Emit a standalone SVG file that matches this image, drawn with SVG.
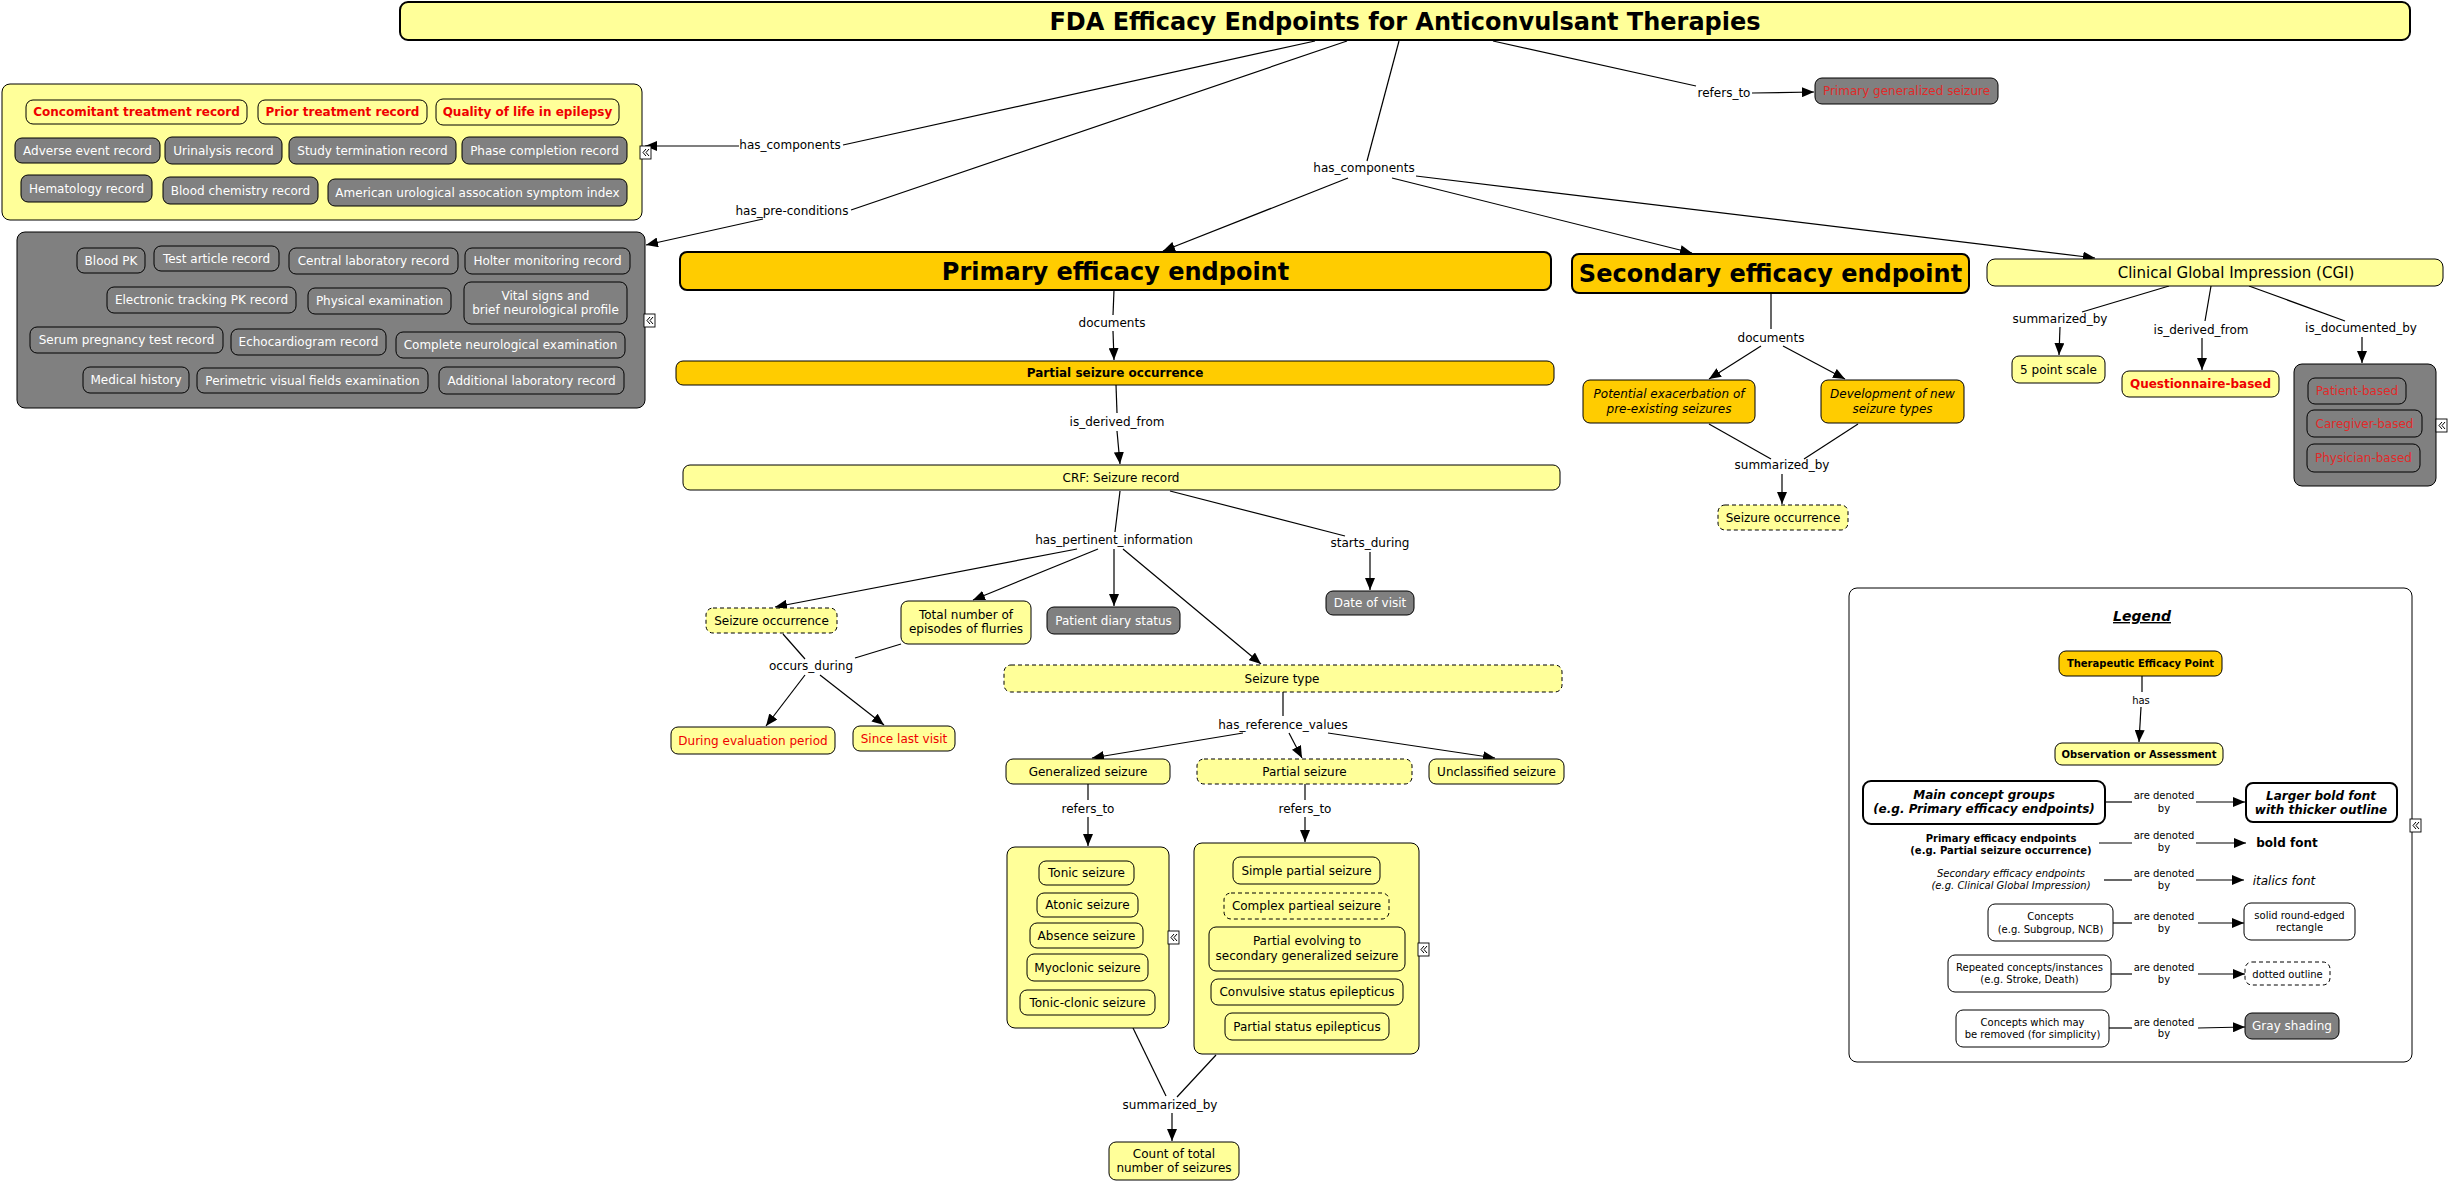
<svg xmlns="http://www.w3.org/2000/svg" width="2449" height="1183" viewBox="0 0 2449 1183">
<defs>
<style>
rect{stroke:#000;stroke-width:1}
.y{fill:#FFFF99}.o{fill:#FFCC00}.g{fill:#808080}.wh{fill:#fff}
.d{stroke-dasharray:4 3}
.thick{stroke-width:2}
text{font-family:"DejaVu Sans",Verdana,"Liberation Sans",sans-serif;font-size:12px;text-anchor:middle;fill:#000}
.w{fill:#fff}.r{fill:#ee0000}.rg{fill:#e02a2a}
.b{font-weight:bold}.i{font-style:italic}
.s10{font-size:10px}.s14{font-size:14px}.s15{font-size:15px}.s24{font-size:24px}
.c line{stroke:#000;stroke-width:1.2;fill:none}
.c line.a{marker-end:url(#ah)}
</style>
<marker id="ah" markerWidth="12" markerHeight="10" refX="12" refY="5" orient="auto" markerUnits="userSpaceOnUse"><path d="M0,0 L12,5 L0,10 z" fill="#000"/></marker>
<g id="mkr"><rect x="0" y="0" width="11" height="13" fill="#fff" style="fill:#fff;stroke:#000;stroke-width:0.9"/><polyline points="6,3 3,6.5 6,10" fill="none" stroke="#000" stroke-width="1"/><polyline points="9,3 6,6.5 9,10" fill="none" stroke="#000" stroke-width="1"/></g>
</defs>
<rect x="0" y="0" width="2449" height="1183" style="fill:#fff;stroke:none"/>

<g id="legend">
<rect class="wh" x="1849" y="588" width="563" height="474" rx="8"/>
<text class="b i s14" x="2142" y="621" text-decoration="underline">Legend</text>
</g>

<g id="connectors" class="c">
<line x1="1315" y1="41" x2="843" y2="145"/>
<line class="a" x1="739" y1="146" x2="645" y2="146"/>
<text x="790" y="149">has_components</text>
<line x1="1347" y1="41" x2="851" y2="210"/>
<line class="a" x1="763" y1="219" x2="646" y2="245"/>
<text x="792" y="215">has_pre-conditions</text>
<line x1="1399" y1="41" x2="1367" y2="161"/>
<text x="1364" y="172">has_components</text>
<line class="a" x1="1348" y1="178" x2="1163" y2="251"/>
<line class="a" x1="1392" y1="178" x2="1692" y2="253"/>
<line class="a" x1="1416" y1="176" x2="2095" y2="258"/>
<line x1="1493" y1="41" x2="1696" y2="86"/>
<text x="1724" y="97">refers_to</text>
<line class="a" x1="1752" y1="93" x2="1814" y2="92"/>
<line x1="1114" y1="290" x2="1113" y2="315"/>
<text x="1112" y="327">documents</text>
<line class="a" x1="1113" y1="331" x2="1114" y2="360"/>
<line x1="1116" y1="385" x2="1117" y2="413"/>
<text x="1117" y="426">is_derived_from</text>
<line class="a" x1="1117" y1="431" x2="1120" y2="464"/>
<line x1="1120" y1="491" x2="1115" y2="532"/>
<text x="1114" y="544">has_pertinent_information</text>
<line class="a" x1="1077" y1="549" x2="775" y2="607"/>
<line class="a" x1="1098" y1="549" x2="973" y2="600"/>
<line class="a" x1="1114" y1="549" x2="1114" y2="606"/>
<line class="a" x1="1123" y1="549" x2="1261" y2="664"/>
<line x1="1170" y1="491" x2="1345" y2="536"/>
<text x="1370" y="547">starts_during</text>
<line class="a" x1="1370" y1="552" x2="1370" y2="590"/>
<line x1="783" y1="634" x2="805" y2="659"/>
<line x1="901" y1="644" x2="855" y2="658"/>
<text x="811" y="670">occurs_during</text>
<line class="a" x1="805" y1="675" x2="766" y2="726"/>
<line class="a" x1="820" y1="675" x2="884" y2="725"/>
<line x1="1283" y1="692" x2="1283" y2="716"/>
<text x="1283" y="729">has_reference_values</text>
<line class="a" x1="1243" y1="733" x2="1092" y2="758"/>
<line class="a" x1="1289" y1="733" x2="1302" y2="758"/>
<line class="a" x1="1328" y1="733" x2="1495" y2="758"/>
<line x1="1088" y1="784" x2="1088" y2="800"/>
<text x="1088" y="813">refers_to</text>
<line class="a" x1="1088" y1="817" x2="1088" y2="846"/>
<line x1="1305" y1="784" x2="1305" y2="800"/>
<text x="1305" y="813">refers_to</text>
<line class="a" x1="1305" y1="817" x2="1305" y2="842"/>
<line x1="1133" y1="1028" x2="1166" y2="1096"/>
<line x1="1216" y1="1055" x2="1177" y2="1097"/>
<text x="1170" y="1109">summarized_by</text>
<line class="a" x1="1172" y1="1113" x2="1172" y2="1141"/>
<line x1="1771" y1="293" x2="1771" y2="329"/>
<text x="1771" y="342">documents</text>
<line class="a" x1="1761" y1="346" x2="1709" y2="379"/>
<line class="a" x1="1783" y1="346" x2="1845" y2="379"/>
<line x1="1709" y1="424" x2="1771" y2="459"/>
<line x1="1858" y1="424" x2="1804" y2="459"/>
<text x="1782" y="469">summarized_by</text>
<line class="a" x1="1782" y1="474" x2="1782" y2="504"/>
<line x1="2169" y1="286" x2="2082" y2="312"/>
<text x="2060" y="323">summarized_by</text>
<line class="a" x1="2060" y1="327" x2="2059" y2="355"/>
<line x1="2211" y1="286" x2="2205" y2="321"/>
<text x="2201" y="334">is_derived_from</text>
<line class="a" x1="2202" y1="338" x2="2202" y2="370"/>
<line x1="2249" y1="286" x2="2345" y2="321"/>
<text x="2361" y="332">is_documented_by</text>
<line class="a" x1="2362" y1="337" x2="2362" y2="363"/>
<line x1="2142" y1="676" x2="2142" y2="692"/>
<text class="s10" x="2141" y="703.5">has</text>
<line class="a" x1="2141" y1="707" x2="2139" y2="742"/>
<line x1="2105" y1="802" x2="2132" y2="802"/>
<line class="a" x1="2196" y1="802" x2="2245" y2="802"/>
<line x1="2099" y1="843" x2="2132" y2="843"/>
<line class="a" x1="2196" y1="843" x2="2246" y2="843"/>
<line x1="2104" y1="880" x2="2132" y2="880"/>
<line class="a" x1="2196" y1="880" x2="2244" y2="880"/>
<line x1="2113" y1="923" x2="2132" y2="923"/>
<line class="a" x1="2198" y1="923" x2="2244" y2="923"/>
<line x1="2111" y1="974" x2="2132" y2="974"/>
<line class="a" x1="2198" y1="974" x2="2245" y2="974"/>
<line x1="2109" y1="1028" x2="2132" y2="1028"/>
<line class="a" x1="2198" y1="1028" x2="2245" y2="1027"/>
<text class="s10" x="2164" y="798.5">are denoted</text><text class="s10" x="2164" y="811.5">by</text>
<text class="s10" x="2164" y="838.5">are denoted</text><text class="s10" x="2164" y="850.5">by</text>
<text class="s10" x="2164" y="876.5">are denoted</text><text class="s10" x="2164" y="888.5">by</text>
<text class="s10" x="2164" y="919.5">are denoted</text><text class="s10" x="2164" y="931.5">by</text>
<text class="s10" x="2164" y="970.5">are denoted</text><text class="s10" x="2164" y="982.5">by</text>
<text class="s10" x="2164" y="1025.5">are denoted</text><text class="s10" x="2164" y="1036.5">by</text>
</g>

<g id="title"><rect class="y thick" x="400" y="2" width="2010" height="38" rx="8"/><text class="b s24" x="1405" y="29.5">FDA Efficacy Endpoints for Anticonvulsant Therapies</text></g>

<g id="grp_components"><rect class="y" x="2" y="84" width="640" height="136" rx="8"/></g>
<g id="n_concomitant"><rect class="y" x="26" y="100" width="221" height="24" rx="7"/><text class="b r" x="136.5" y="116.2">Concomitant treatment record</text></g>
<g id="n_prior"><rect class="y" x="258" y="100" width="169" height="24" rx="7"/><text class="b r" x="342.5" y="116.2">Prior treatment record</text></g>
<g id="n_qol"><rect class="y" x="436" y="99" width="183" height="26" rx="7"/><text class="b r" x="527.5" y="116.2">Quality of life in epilepsy</text></g>
<g id="n_adverse"><rect class="g" x="15" y="138" width="145" height="25" rx="7"/><text class="w" x="87.5" y="154.7">Adverse event record</text></g>
<g id="n_urinalysis"><rect class="g" x="165" y="137" width="117" height="27" rx="7"/><text class="w" x="223.5" y="154.7">Urinalysis record</text></g>
<g id="n_studyterm"><rect class="g" x="289" y="137" width="167" height="27" rx="7"/><text class="w" x="372.5" y="154.7">Study termination record</text></g>
<g id="n_phase"><rect class="g" x="462" y="137" width="165" height="27" rx="7"/><text class="w" x="544.5" y="154.7">Phase completion record</text></g>
<g id="n_hematology"><rect class="g" x="21" y="175" width="131" height="27" rx="7"/><text class="w" x="86.5" y="192.7">Hematology record</text></g>
<g id="n_bloodchem"><rect class="g" x="163" y="177" width="155" height="27" rx="7"/><text class="w" x="240.5" y="194.7">Blood chemistry record</text></g>
<g id="n_auasi"><rect class="g" x="328" y="179" width="299" height="27" rx="7"/><text class="w" x="477.5" y="196.7">American urological assocation symptom index</text></g>
<g id="mk1"><use href="#mkr" x="640" y="146"/></g>

<g id="grp_preconditions"><rect class="g" x="17" y="232" width="628" height="176" rx="8"/></g>
<g id="n_bloodpk"><rect class="g" x="77" y="248" width="68" height="25" rx="7"/><text class="w" x="111" y="264.7">Blood PK</text></g>
<g id="n_testarticle"><rect class="g" x="154" y="246" width="125" height="25" rx="7"/><text class="w" x="216.5" y="262.7">Test article record</text></g>
<g id="n_centrallab"><rect class="g" x="289" y="248" width="169" height="26" rx="7"/><text class="w" x="373.5" y="265.2">Central laboratory record</text></g>
<g id="n_holter"><rect class="g" x="465" y="248" width="165" height="26" rx="7"/><text class="w" x="547.5" y="265.2">Holter monitoring record</text></g>
<g id="n_electronic"><rect class="g" x="107" y="287" width="189" height="26" rx="7"/><text class="w" x="201.5" y="304.2">Electronic tracking PK record</text></g>
<g id="n_physical"><rect class="g" x="308" y="288" width="143" height="26" rx="7"/><text class="w" x="379.5" y="305.2">Physical examination</text></g>
<g id="n_vital"><rect class="g" x="464" y="282" width="163" height="42" rx="7"/><text class="w" x="545.5" y="299.5">Vital signs and</text><text class="w" x="545.5" y="313.5">brief neurological profile</text></g>
<g id="n_serum"><rect class="g" x="30" y="327" width="193" height="26" rx="7"/><text class="w" x="126.5" y="344.2">Serum pregnancy test record</text></g>
<g id="n_echo"><rect class="g" x="231" y="329" width="155" height="26" rx="7"/><text class="w" x="308.5" y="346.2">Echocardiogram record</text></g>
<g id="n_neuro"><rect class="g" x="396" y="332" width="229" height="26" rx="7"/><text class="w" x="510.5" y="349.2">Complete neurological examination</text></g>
<g id="n_medhist"><rect class="g" x="83" y="367" width="106" height="26" rx="7"/><text class="w" x="136" y="384.2">Medical history</text></g>
<g id="n_perimetric"><rect class="g" x="197" y="368" width="231" height="25" rx="7"/><text class="w" x="312.5" y="384.7">Perimetric visual fields examination</text></g>
<g id="n_addlab"><rect class="g" x="439" y="367" width="185" height="27" rx="7"/><text class="w" x="531.5" y="384.7">Additional laboratory record</text></g>
<g id="mk2"><use href="#mkr" x="644" y="314"/></g>

<g id="n_pgs"><rect class="g" x="1815" y="78" width="183" height="26" rx="7"/><text class="rg" x="1906.5" y="95.2">Primary generalized seizure</text></g>

<g id="n_primary"><rect class="o thick" x="680" y="252" width="871" height="38" rx="7"/><text class="b s24" x="1115.5" y="279.5">Primary efficacy endpoint</text></g>
<g id="n_pso"><rect class="o" x="676" y="361" width="878" height="24" rx="7"/><text class="b" x="1115" y="377.2">Partial seizure occurrence</text></g>
<g id="n_crf"><rect class="y" x="683" y="465" width="877" height="25" rx="7"/><text x="1121" y="481.7">CRF: Seizure record</text></g>

<g id="n_so1"><rect class="y d" x="706" y="608" width="131" height="25" rx="7"/><text x="771.5" y="624.7">Seizure occurrence</text></g>
<g id="n_total"><rect class="y" x="901" y="601" width="130" height="43" rx="7"/><text x="966" y="619.2">Total number of</text><text x="966" y="633.2">episodes of flurries</text></g>
<g id="n_diary"><rect class="g" x="1047" y="607" width="133" height="27" rx="7"/><text class="w" x="1113.5" y="624.7">Patient diary status</text></g>
<g id="n_date"><rect class="g" x="1326" y="591" width="88" height="24" rx="7"/><text class="w" x="1370" y="607.2">Date of visit</text></g>
<g id="n_stype"><rect class="y d" x="1004" y="665" width="558" height="27" rx="7"/><text x="1282" y="682.7">Seizure type</text></g>
<g id="n_during"><rect class="y" x="671" y="727" width="164" height="27" rx="7"/><text class="r" x="753" y="744.7">During evaluation period</text></g>
<g id="n_since"><rect class="y" x="853" y="726" width="102" height="25" rx="7"/><text class="r" x="904" y="742.7">Since last visit</text></g>
<g id="n_generalized"><rect class="y" x="1006" y="759" width="164" height="25" rx="7"/><text x="1088" y="775.7">Generalized seizure</text></g>
<g id="n_partial"><rect class="y d" x="1197" y="759" width="215" height="25" rx="7"/><text x="1304.5" y="775.7">Partial seizure</text></g>
<g id="n_unclassified"><rect class="y" x="1429" y="759" width="135" height="25" rx="7"/><text x="1496.5" y="775.7">Unclassified seizure</text></g>

<g id="grp_generalized"><rect class="y" x="1007" y="847" width="162" height="181" rx="8"/></g>
<g id="n_tonic"><rect class="y" x="1039" y="861" width="95" height="24" rx="7"/><text x="1086.5" y="877.2">Tonic seizure</text></g>
<g id="n_atonic"><rect class="y" x="1037" y="893" width="101" height="24" rx="7"/><text x="1087.5" y="909.2">Atonic seizure</text></g>
<g id="n_absence"><rect class="y" x="1030" y="923" width="113" height="25" rx="7"/><text x="1086.5" y="939.7">Absence seizure</text></g>
<g id="n_myoclonic"><rect class="y" x="1027" y="954" width="121" height="27" rx="7"/><text x="1087.5" y="971.7">Myoclonic seizure</text></g>
<g id="n_tonicclonic"><rect class="y" x="1020" y="990" width="135" height="25" rx="7"/><text x="1087.5" y="1006.7">Tonic-clonic seizure</text></g>
<g id="mk3"><use href="#mkr" x="1168" y="931"/></g>

<g id="grp_partial"><rect class="y" x="1194" y="843" width="225" height="211" rx="8"/></g>
<g id="n_simple"><rect class="y" x="1233" y="857" width="147" height="27" rx="7"/><text x="1306.5" y="874.7">Simple partial seizure</text></g>
<g id="n_complex"><rect class="y d" x="1224" y="893" width="165" height="26" rx="7"/><text x="1306.5" y="910.2">Complex partieal seizure</text></g>
<g id="n_evolving"><rect class="y" x="1209" y="927" width="196" height="44" rx="7"/><text x="1307" y="945">Partial evolving to</text><text x="1307" y="959.5">secondary generalized seizure</text></g>
<g id="n_convulsive"><rect class="y" x="1211" y="979" width="192" height="26" rx="7"/><text x="1307" y="996.2">Convulsive status epilepticus</text></g>
<g id="n_pstatus"><rect class="y" x="1225" y="1013" width="164" height="27" rx="7"/><text x="1307" y="1030.7">Partial status epilepticus</text></g>
<g id="mk4"><use href="#mkr" x="1418" y="943"/></g>

<g id="n_count"><rect class="y" x="1109" y="1142" width="130" height="38" rx="7"/><text x="1174" y="1157.5">Count of total</text><text x="1174" y="1172">number of seizures</text></g>

<g id="n_secondary"><rect class="o thick" x="1572" y="254" width="397" height="39" rx="7"/><text class="b s24" x="1770.5" y="282">Secondary efficacy endpoint</text></g>
<g id="n_potential"><rect class="o" x="1583" y="380" width="172" height="43" rx="7"/><text class="i" x="1669" y="398">Potential exacerbation of</text><text class="i" x="1669" y="413">pre-existing seizures</text></g>
<g id="n_development"><rect class="o" x="1821" y="380" width="143" height="43" rx="7"/><text class="i" x="1892.5" y="398">Development of new</text><text class="i" x="1892.5" y="413">seizure types</text></g>
<g id="n_so2"><rect class="y d" x="1718" y="505" width="130" height="25" rx="7"/><text x="1783" y="521.7">Seizure occurrence</text></g>

<g id="n_cgi"><rect class="y" x="1987" y="259" width="456" height="27" rx="8"/><text class="s15" x="2236" y="277.8">Clinical Global Impression (CGI)</text></g>
<g id="n_5pt"><rect class="y" x="2012" y="356" width="93" height="27" rx="7"/><text x="2058.5" y="373.7">5 point scale</text></g>
<g id="n_questionnaire"><rect class="y" x="2122" y="371" width="157" height="26" rx="7"/><text class="b r" x="2200.5" y="388.2">Questionnaire-based</text></g>
<g id="grp_documented"><rect class="g" x="2294" y="364" width="142" height="122" rx="8"/></g>
<g id="n_patient"><rect class="g" x="2308" y="378" width="98" height="26" rx="7"/><text class="rg" x="2357" y="395.2">Patient-based</text></g>
<g id="n_caregiver"><rect class="g" x="2307" y="410" width="115" height="27" rx="7"/><text class="rg" x="2364.5" y="427.7">Caregiver-based</text></g>
<g id="n_physician"><rect class="g" x="2307" y="444" width="113" height="28" rx="7"/><text class="rg" x="2363.5" y="462.2">Physician-based</text></g>
<g id="mk5"><use href="#mkr" x="2436" y="419"/></g>

<g id="lg_tep"><rect class="o" x="2059" y="651" width="163" height="25" rx="7"/><text class="b s10" x="2140.5" y="667">Therapeutic Efficacy Point</text></g>
<g id="lg_ooa"><rect class="y" x="2055" y="743" width="168" height="22" rx="7"/><text class="b s10" x="2139" y="757.5">Observation or Assessment</text></g>
<g id="lg_main"><rect class="wh thick" x="1863" y="781" width="242" height="43" rx="8"/><text class="b i" x="1984" y="799">Main concept groups</text><text class="b i" x="1984" y="813">(e.g. Primary efficacy endpoints)</text></g>
<g id="lg_larger"><rect class="wh thick" x="2246" y="783" width="151" height="39" rx="7"/><text class="b i" x="2321" y="800">Larger bold font</text><text class="b i" x="2321" y="814">with thicker outline</text></g>
<g id="lg_primary"><text class="b s10" x="2001" y="841.5">Primary efficacy endpoints</text><text class="b s10" x="2001" y="853.5">(e.g. Partial seizure occurrence)</text></g>
<g id="lg_bold"><text class="b" x="2287" y="846.5">bold font</text></g>
<g id="lg_secondary"><text class="i s10" x="2011" y="876.5">Secondary efficacy endpoints</text><text class="i s10" x="2011" y="888.5">(e.g. Clinical Global Impression)</text></g>
<g id="lg_italic"><text class="i" x="2284" y="884.5">italics font</text></g>
<g id="lg_concepts"><rect class="wh" x="1988" y="904" width="125" height="37" rx="7"/><text class="s10" x="2050.5" y="919.5">Concepts</text><text class="s10" x="2050.5" y="932.5">(e.g. Subgroup, NCB)</text></g>
<g id="lg_solid"><rect class="wh" x="2244" y="903" width="111" height="37" rx="7"/><text class="s10" x="2299.5" y="918.5">solid round-edged</text><text class="s10" x="2299.5" y="930.5">rectangle</text></g>
<g id="lg_repeated"><rect class="wh" x="1948" y="955" width="163" height="37" rx="7"/><text class="s10" x="2029.5" y="970.5">Repeated concepts/instances</text><text class="s10" x="2029.5" y="982.5">(e.g. Stroke, Death)</text></g>
<g id="lg_dotted"><rect class="wh d" x="2245" y="962" width="85" height="23" rx="7"/><text class="s10" x="2287.5" y="977.5">dotted outline</text></g>
<g id="lg_removed"><rect class="wh" x="1956" y="1010" width="153" height="37" rx="7"/><text class="s10" x="2032.5" y="1025.5">Concepts which may</text><text class="s10" x="2032.5" y="1037.5">be removed (for simplicity)</text></g>
<g id="lg_gray"><rect class="g" x="2245" y="1013" width="94" height="26" rx="7"/><text class="w" x="2292" y="1030.2">Gray shading</text></g>
<g id="mk6"><use href="#mkr" x="2410" y="819"/></g>
</svg>
